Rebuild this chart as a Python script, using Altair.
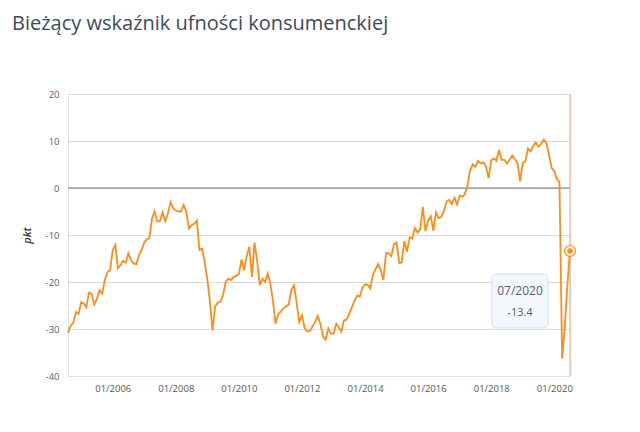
import altair as alt
import pandas as pd

# ---- data ----
title_text = "Bieżący wskaźnik ufności konsumenckiej"
y_title = "pkt"
first_month = "2004-08-01"
tick_years = [2006, 2008, 2010, 2012, 2014, 2016, 2018, 2020]
y_ticks = [-40, -35, -30, -25, -20, -15, -10, -5, 0, 5, 10, 15, 20]

values = [
    -30.8, -29.3, -28.7, -26.4, -26.8, -24.3, -24.6, -25.4, -22.3, -22.5,
    -24.8, -23.6, -21.8, -22.5, -19.6, -17.9, -17.5, -13.2, -12.1, -17.1,
    -16.4, -15.5, -15.9, -13.9, -15.4, -16.1, -16.2, -14.3, -13.2, -11.6,
    -10.9, -10.6, -6.5, -5.0, -7.1, -7.1, -5.2, -7.1, -5.5, -3.0,
    -4.3, -4.8, -5.0, -5.0, -3.6, -5.0, -8.6, -7.9, -7.6, -6.9,
    -13.2, -12.9, -15.8, -19.5, -24.5, -30.3, -25.2, -24.4, -24.2, -22.8,
    -20.0, -19.3, -19.6, -18.9, -18.7, -18.3, -15.2, -17.5, -14.6, -12.5,
    -18.9, -11.6, -15.7, -20.7, -19.3, -20.0, -18.2, -20.4, -24.3, -28.9,
    -26.8, -26.3, -25.6, -25.2, -24.8, -21.6, -20.7, -24.5, -28.5, -27.1,
    -29.8, -30.5, -30.5, -29.5, -28.6, -27.2, -28.9, -31.5, -32.3, -29.9,
    -31.0, -31.0, -28.9, -29.6, -30.6, -28.2, -28.0, -26.8, -25.4, -24.0,
    -22.9, -23.1, -21.2, -20.5, -20.6, -21.4, -18.5, -17.3, -16.2, -17.4,
    -19.6, -13.8, -13.9, -14.5, -12.0, -11.6, -16.0, -15.8, -11.3, -13.6,
    -10.5, -10.8, -8.5, -9.5, -8.8, -4.0, -9.2, -6.9, -6.0, -9.1,
    -5.2, -6.4, -6.2, -5.0, -2.9, -2.5, -3.4, -2.1, -3.5, -1.6,
    -1.9, -1.3, 0.5, 3.8, 5.0, 4.5, 5.8, 5.2, 5.5, 4.6,
    2.1, 5.9, 6.3, 5.8, 8.1, 6.0, 6.0, 5.2, 6.0, 6.9,
    6.1, 5.4, 1.4, 5.3, 5.7, 8.4, 7.8, 8.9, 9.7, 8.8,
    9.4, 10.3, 9.6, 7.0, 4.3, 3.6, 1.8, 1.3, -36.3, -29.6,
    -20.5, -13.4,
]

dates = pd.date_range(first_month, periods=len(values), freq="MS")
df = pd.DataFrame({"date": dates, "value": values})
last = df.iloc[[-1]].reset_index(drop=True)

# ---- styles ----
ORANGE = "#ff8c1a"
FONT = "Open Sans"

x_scale = alt.Scale(
    domain=[alt.DateTime(year=dates[0].year, month=dates[0].month, date=1),
            alt.DateTime(year=dates[-1].year, month=dates[-1].month, date=1)],
    nice=False,
)
y_scale = alt.Scale(domain=[-40, 20], nice=False, zero=False)

x_enc = alt.X(
    "date:T",
    scale=x_scale,
    axis=alt.Axis(
        values=[alt.DateTime(year=y, month=1, date=1) for y in tick_years],
        format="%m/%Y",
        grid=False, ticks=False, domain=False, title=None,
        labelFont=FONT, labelFontSize=9.5, labelColor="#555555", labelPadding=7,
    ),
)
y_enc = alt.Y(
    "value:Q",
    scale=y_scale,
    axis=alt.Axis(
        values=y_ticks,
        labelExpr="datum.value % 10 === 0 ? '' + datum.value : ''",
        grid=True,
        gridColor={"condition": {"test": "datum.value % 10 === 0", "value": "#dcdcdc"},
                   "value": "#eeeeee"},
        gridWidth=1,
        ticks=False, domain=False,
        title=y_title, titleFont=FONT, titleFontSize=11, titleFontStyle="italic",
        titleFontWeight=600, titleColor="#333333", titlePadding=13,
        labelFont=FONT, labelFontSize=9.5, labelColor="#5f5f5f", labelPadding=9,
    ),
)

base = alt.Chart(df)

# invisible copy first so that the axes are defined by it
axes_holder = base.mark_line(strokeOpacity=0).encode(x=x_enc, y=y_enc)

zero_rule = base.mark_rule(color="#777777", strokeWidth=1).encode(
    y=alt.Y("z:Q", scale=y_scale)
).transform_calculate(z="0").transform_aggregate(z="min(z)")

cross = alt.Chart(last).mark_rule(color="#f6a98c", strokeWidth=1).encode(
    x=alt.X("date:T", scale=x_scale)
)

line = base.mark_line(color=ORANGE, strokeWidth=1.8).encode(x=x_enc, y=y_enc)

ring = alt.Chart(last).mark_circle(
    size=120, fill="#fff1e3", stroke=ORANGE, strokeWidth=1.2, opacity=1
).encode(x=alt.X("date:T", scale=x_scale), y=alt.Y("value:Q", scale=y_scale))
dot = alt.Chart(last).mark_circle(size=30, color=ORANGE, opacity=1).encode(
    x=alt.X("date:T", scale=x_scale), y=alt.Y("value:Q", scale=y_scale)
)

box = alt.Chart(last).mark_rect(
    cornerRadius=4, fill="#f4f8fd", stroke="#cfdff0", strokeWidth=1
).encode(x=alt.value(424), x2=alt.value(480), y=alt.value(180), y2=alt.value(234))

tip_date = alt.Chart(last).transform_calculate(
    t="timeFormat(datum.date, '%m/%Y')"
).mark_text(font=FONT, fontSize=12, color="#555e6b", baseline="middle", align="center").encode(
    x=alt.value(452), y=alt.value(197), text="t:N"
)
tip_val = alt.Chart(last).transform_calculate(
    t="'' + datum.value"
).mark_text(font=FONT, fontSize=11, color="#555e6b", baseline="middle", align="center").encode(
    x=alt.value(452), y=alt.value(219), text="t:N"
)

chart = alt.layer(
    axes_holder, zero_rule, cross, line, box, tip_date, tip_val, ring, dot
).properties(
    width=502, height=282,
    autosize="none",
    padding={"left": 60, "top": 86, "right": 60, "bottom": 40},
    title=alt.TitleParams(
        text=title_text, anchor="start", frame="group", font=FONT, fontSize=20,
        fontWeight="normal", color="#3d4a5c", dx=-56, offset=55,
    ),
).configure_view(stroke=None).configure(background="white")

chart.save("out.html", embed_options={"renderer": "svg", "actions": False})
